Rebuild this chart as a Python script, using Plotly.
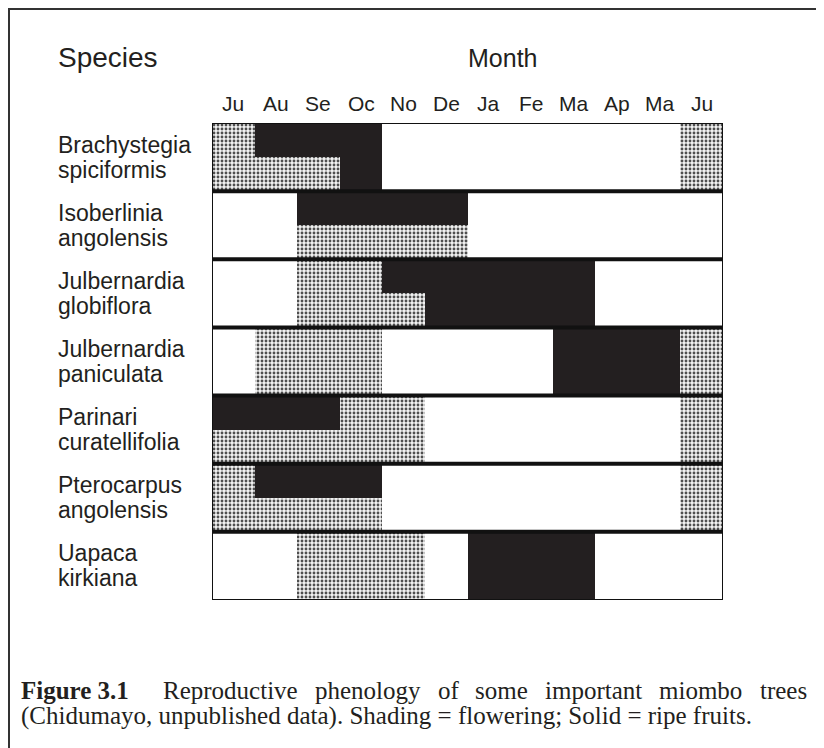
import plotly.graph_objects as go

# the page body has an 8 px margin, so the figure starts at (8, 8) in the window
OFF = 8
W, H = 824 - OFF, 748 - OFF

# ---------------- data ----------------
months = ["Ju", "Au", "Se", "Oc", "No", "De", "Ja", "Fe", "Ma", "Ap", "Ma", "Ju"]
genus = ["Brachystegia", "Isoberlinia", "Julbernardia", "Julbernardia",
         "Parinari", "Pterocarpus", "Uapaca"]
epithet = ["spiciformis", "angolensis", "globiflora", "paniculata",
           "curatellifolia", "angolensis", "kirkiana"]

# flowering periods (shaded), full row height: species index, start month, end month
flower_species = [0, 0, 1, 2, 3, 3, 4, 4, 5, 5, 6]
flower_start = [0, 11, 2, 2, 1, 11, 0, 11, 0, 11, 2]
flower_end = [3, 12, 6, 5, 4, 12, 5, 12, 4, 12, 5]

# ripe fruit periods (solid): species index, part of row, start month, end month
fruit_species = [0, 0, 1, 2, 2, 3, 4, 5, 6]
fruit_part = ["top", "bottom", "top", "top", "bottom", "full", "top", "top", "full"]
fruit_start = [1, 3, 2, 4, 5, 8, 0, 1, 6]
fruit_end = [4, 4, 6, 9, 9, 11, 3, 4, 9]

caption_bold = "Figure 3.1"
caption_words = ["Reproductive", "phenology", "of", "some", "important", "miombo", "trees"]
caption_line2 = "(Chidumayo, unpublished data). Shading = flowering; Solid = ripe fruits."

# ---------------- helpers (window pixels -> paper) ----------------
def px(x):
    return (x - OFF) / W

def py(y):
    return 1 - (y - OFF) / H

part_off = {"full": (0.5, 1.0), "top": (0.25, 0.5), "bottom": (0.75, 0.5)}

INK = "#231f20"
SANS = "Liberation Sans, Arial, sans-serif"
SERIF = "Liberation Serif, Times New Roman, serif"

fig = go.Figure()

fig.add_trace(go.Bar(
    orientation="h",
    y=[s + 0.5 for s in flower_species],
    base=flower_start,
    x=[e - s for s, e in zip(flower_start, flower_end)],
    width=[1.0] * len(flower_species),
    marker=dict(color="#f2f2f2", line=dict(width=0),
                pattern=dict(shape=".", fgcolor="#4e4e4e", bgcolor="#f2f2f2",
                             size=4, solidity=0.4, fillmode="replace")),
    opacity=1, showlegend=False, hoverinfo="skip",
))

fig.add_trace(go.Bar(
    orientation="h",
    y=[s + part_off[p][0] for s, p in zip(fruit_species, fruit_part)],
    base=fruit_start,
    x=[e - s for s, e in zip(fruit_start, fruit_end)],
    width=[part_off[p][1] for p in fruit_part],
    marker=dict(color=INK, line=dict(width=0)),
    opacity=1, showlegend=False, hoverinfo="skip",
))

n_rows = len(genus)
shapes = []
for i in range(n_rows):
    shapes.append(dict(type="rect", xref="x", yref="y", x0=0, x1=12, y0=i, y1=i + 1,
                       line=dict(color="#111", width=2), layer="above"))
for i in range(1, n_rows):
    shapes.append(dict(type="line", xref="x", yref="y", x0=0, x1=12, y0=i, y1=i,
                       line=dict(color="#111", width=4), layer="above"))
# outer frame of the figure (continues past the right and bottom edges)
shapes.append(dict(type="rect", xref="paper", yref="paper",
                   x0=px(9), x1=1.2, y0=py(9), y1=-0.2,
                   line=dict(color="#333", width=2)))

annotations = []
for i in range(n_rows):
    annotations.append(dict(xref="paper", yref="y", x=px(57), y=i + 0.5, yshift=12.5,
                            text=genus[i], showarrow=False, xanchor="left", yanchor="middle",
                            borderpad=0, font=dict(family=SANS, size=23, color=INK)))
    annotations.append(dict(xref="paper", yref="y", x=px(57), y=i + 0.5, yshift=-12.5,
                            text=epithet[i], showarrow=False, xanchor="left", yanchor="middle",
                            borderpad=0, font=dict(family=SANS, size=23, color=INK)))

# month labels along the top of the grid
for i, m in enumerate(months):
    annotations.append(dict(xref="x", yref="paper", x=i + 0.5, y=py(103), text=m,
                            showarrow=False, xanchor="center", yanchor="middle",
                            borderpad=0, font=dict(family=SANS, size=21, color=INK)))

annotations.append(dict(xref="paper", yref="paper", x=px(57), y=py(58), text="Species",
                        showarrow=False, xanchor="left", yanchor="middle", borderpad=0,
                        font=dict(family=SANS, size=28, color=INK)))
annotations.append(dict(xref="paper", yref="paper", x=px(503), y=py(58), text="Month",
                        showarrow=False, xanchor="center", yanchor="middle", borderpad=0,
                        font=dict(family=SANS, size=25, color=INK)))

# justified first caption line (Times metrics)
tw = {'a': 444, 'b': 500, 'c': 444, 'd': 500, 'e': 444, 'f': 333, 'g': 500, 'h': 500,
      'i': 278, 'l': 278, 'm': 778, 'n': 500, 'o': 500, 'p': 500, 'r': 333, 's': 389,
      't': 278, 'u': 500, 'v': 500, 'y': 500, 'R': 667}
tbw = {'F': 611, 'i': 278, 'g': 500, 'u': 556, 'r': 444, 'e': 444, ' ': 250,
       '3': 500, '.': 250, '1': 500}
CF = 25
left, right = 20, 806
wb = sum(tbw[c] for c in caption_bold) / 1000 * CF
ww = [sum(tw[c] for c in w) / 1000 * CF for w in caption_words]
first_gap_w = 2.0
gap = (right - left - wb - sum(ww)) / (len(ww) - 1 + first_gap_w)
y1 = py(690)
annotations.append(dict(xref="paper", yref="paper", x=px(left), y=y1,
                        text="<b>" + caption_bold + "</b>",
                        showarrow=False, xanchor="left", yanchor="middle", borderpad=0,
                        font=dict(family=SERIF, size=CF, color=INK)))
xcur = left + wb + gap * first_gap_w
for w, wdt in zip(caption_words, ww):
    annotations.append(dict(xref="paper", yref="paper", x=px(xcur), y=y1, text=w,
                            showarrow=False, xanchor="left", yanchor="middle", borderpad=0,
                            font=dict(family=SERIF, size=CF, color=INK)))
    xcur += wdt + gap
annotations.append(dict(xref="paper", yref="paper", x=px(left), y=py(716), text=caption_line2,
                        showarrow=False, xanchor="left", yanchor="middle", borderpad=0,
                        font=dict(family=SERIF, size=CF, color=INK)))

fig.update_layout(
    width=W, height=H,
    margin=dict(l=0, r=0, t=0, b=0),
    paper_bgcolor="white", plot_bgcolor="white",
    barmode="overlay", bargap=0,
    shapes=shapes, annotations=annotations,
    xaxis=dict(domain=[px(212), px(723)], range=[0, 12],
               showgrid=False, zeroline=False, showline=False, showticklabels=False,
               ticks="", fixedrange=True),
    yaxis=dict(domain=[py(600), py(123)], range=[n_rows, 0],
               showgrid=False, zeroline=False, showline=False, showticklabels=False,
               ticks="", fixedrange=True),
)

fig.write_html("out.html")
